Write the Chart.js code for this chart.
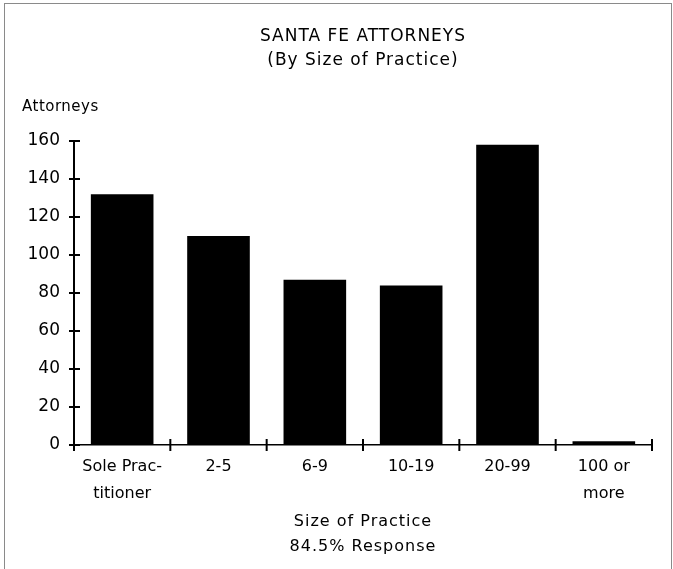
<!DOCTYPE html>
<html>
<head>
<meta charset="utf-8">
<script src="https://cdn.jsdelivr.net/npm/chart.js@4.4.1/dist/chart.umd.min.js"></script>
<style>
  html, body { margin: 0; padding: 0; background: #fff; }
  #wrap { position: relative; width: 673px; height: 569px; overflow: hidden; }
  #frame { position: absolute; left: 4px; top: 3px; width: 666px; height: 620px; border: 1px solid #8a8a8a; }
  #chart { position: absolute; left: 0; top: 0; }
</style>
</head>
<body>
<div id="wrap">
  <div id="frame"></div>
  <canvas id="chart" width="673" height="569"></canvas>
</div>
<script>
// ---- data ----
var categories = [['Sole Prac-', 'titioner'], '2-5', '6-9', '10-19', '20-99', ['100 or', 'more']];
var attorneys = [132, 110, 87, 84, 158, 2];
var yTicks = [0, 20, 40, 60, 80, 100, 120, 140, 160];
var titleLines = ['SANTA FE ATTORNEYS', '(By Size of Practice)'];
var xTitleLines = ['Size of Practice', '84.5% Response'];
var yTitle = 'Attorneys';

var FONT = '"DejaVu Sans", sans-serif';

// ticks crossing the axes + all free text
var extras = {
  id: 'extras',
  afterDraw: function (chart) {
    var ctx = chart.ctx;
    var xs = chart.scales.x, ys = chart.scales.y;
    var area = chart.chartArea;
    ctx.save();
    ctx.strokeStyle = '#000';
    ctx.lineWidth = 2;

    // y ticks
    yTicks.forEach(function (v) {
      var y = ys.getPixelForValue(v);
      ctx.beginPath();
      ctx.moveTo(area.left - 5, y);
      ctx.lineTo(area.left + 6, y);
      ctx.stroke();
    });

    // x ticks at category boundaries
    var n = categories.length;
    for (var i = 0; i <= n; i++) {
      var x = xs.left + i * (xs.width / n);
      ctx.beginPath();
      ctx.moveTo(x, area.bottom - 6);
      ctx.lineTo(x, area.bottom + 6);
      ctx.stroke();
    }

    ctx.fillStyle = '#000';
    ctx.textBaseline = 'middle';
    var cx = (area.left + area.right) / 2;

    // title
    ctx.textAlign = 'center';
    ctx.font = '17px ' + FONT;
    ctx.letterSpacing = '1px';
    ctx.fillText(titleLines[0], cx, 37);
    ctx.fillText(titleLines[1], cx, 61);

    // x title
    ctx.font = '16px ' + FONT;
    ctx.fillText(xTitleLines[0], cx, 522);
    ctx.fillText(xTitleLines[1], cx, 547);

    // y title
    ctx.letterSpacing = '0.5px';
    ctx.textAlign = 'left';
    ctx.font = '15px ' + FONT;
    ctx.fillText(yTitle, 22, 107);
    ctx.restore();
  }
};

new Chart(document.getElementById('chart'), {
  type: 'bar',
  data: {
    labels: categories,
    datasets: [{
      label: yTitle,
      data: attorneys,
      backgroundColor: '#000',
      borderWidth: 0,
      barPercentage: 0.65,
      categoryPercentage: 1
    }]
  },
  options: {
    responsive: false,
    animation: false,
    layout: { padding: { left: 0, right: 21, top: 141, bottom: 0 } },
    plugins: { legend: { display: false }, tooltip: { enabled: false } },
    scales: {
      x: {
        offset: true,
        afterFit: function (s) { s.height = 124; },
        grid: { display: false, drawTicks: false },
        border: { display: true, color: '#000', width: 1.5 },
        ticks: {
          color: '#000',
          padding: 9,
          maxRotation: 0,
          autoSkip: false,
          font: { family: FONT, size: 16, lineHeight: 1.65 }
        }
      },
      y: {
        min: 0,
        max: 160,
        afterFit: function (s) { s.width = 74; },
        afterBuildTicks: function (s) { s.ticks = yTicks.map(function (v) { return { value: v }; }); },
        grid: { display: false, drawTicks: false },
        border: { display: true, color: '#000', width: 2 },
        ticks: {
          color: '#000',
          padding: 14,
          font: { family: FONT, size: 17 }
        }
      }
    }
  },
  plugins: [extras]
});
</script>
</body>
</html>
